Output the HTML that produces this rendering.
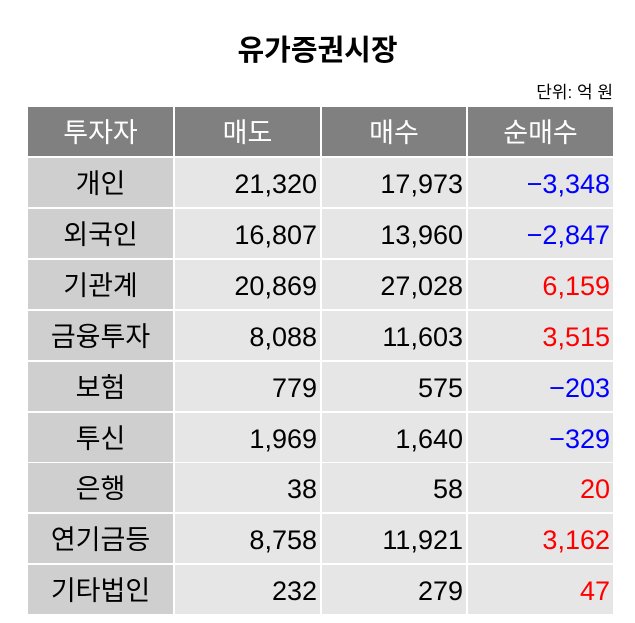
<!DOCTYPE html><html><head><meta charset="utf-8"><style>
body{margin:0;width:635px;height:623px;background:#fff;font-family:"Liberation Sans","Noto Sans CJK KR",sans-serif;position:relative;overflow:hidden}
.t{position:absolute;top:27px;left:0;width:635px;text-align:center;font-size:29px;font-weight:bold}
.u{position:absolute;top:78px;right:22px;font-size:17px}
.c{position:absolute;height:49px;line-height:53px;font-size:27px;box-sizing:border-box;overflow:hidden}
</style></head><body>
<div class="t">유가증권시장</div>
<div class="u">단위: 억 원</div>
<div id="tb"></div>
<script>
const rows=[["개인","21,320","17,973","−3,348"],["외국인","16,807","13,960","−2,847"],["기관계","20,869","27,028","6,159"],["금융투자","8,088","11,603","3,515"],["보험","779","575","−203"],["투신","1,969","1,640","−329"],["은행","38","58","20"],["연기금등","8,758","11,921","3,162"],["기타법인","232","279","47"]];
const xs=[28,175,322,468],ws=[145,145,144,145];let h="";
const hd=["투자자","매도","매수","순매수"];
hd.forEach((s,j)=>h+=`<div class="c" style="left:${xs[j]}px;top:107px;width:${ws[j]}px;background:#808080;color:#fff;text-align:center">${s}</div>`);
rows.forEach((r,i)=>{const y=Math.round(158+i*50.9);r.forEach((s,j)=>{let st=`left:${xs[j]}px;top:${y}px;width:${ws[j]}px;`;if(j==0)st+="background:#d0cfd0;text-align:center;";else st+="background:#e6e6e6;text-align:right;padding-right:3px;";if(j==3)st+="color:"+(s[0]=="−"?"#0000ff":"#ff0000")+";";h+=`<div class="c" style="${st}">${s}</div>`})});
document.getElementById("tb").innerHTML=h;
</script>
</body></html>
